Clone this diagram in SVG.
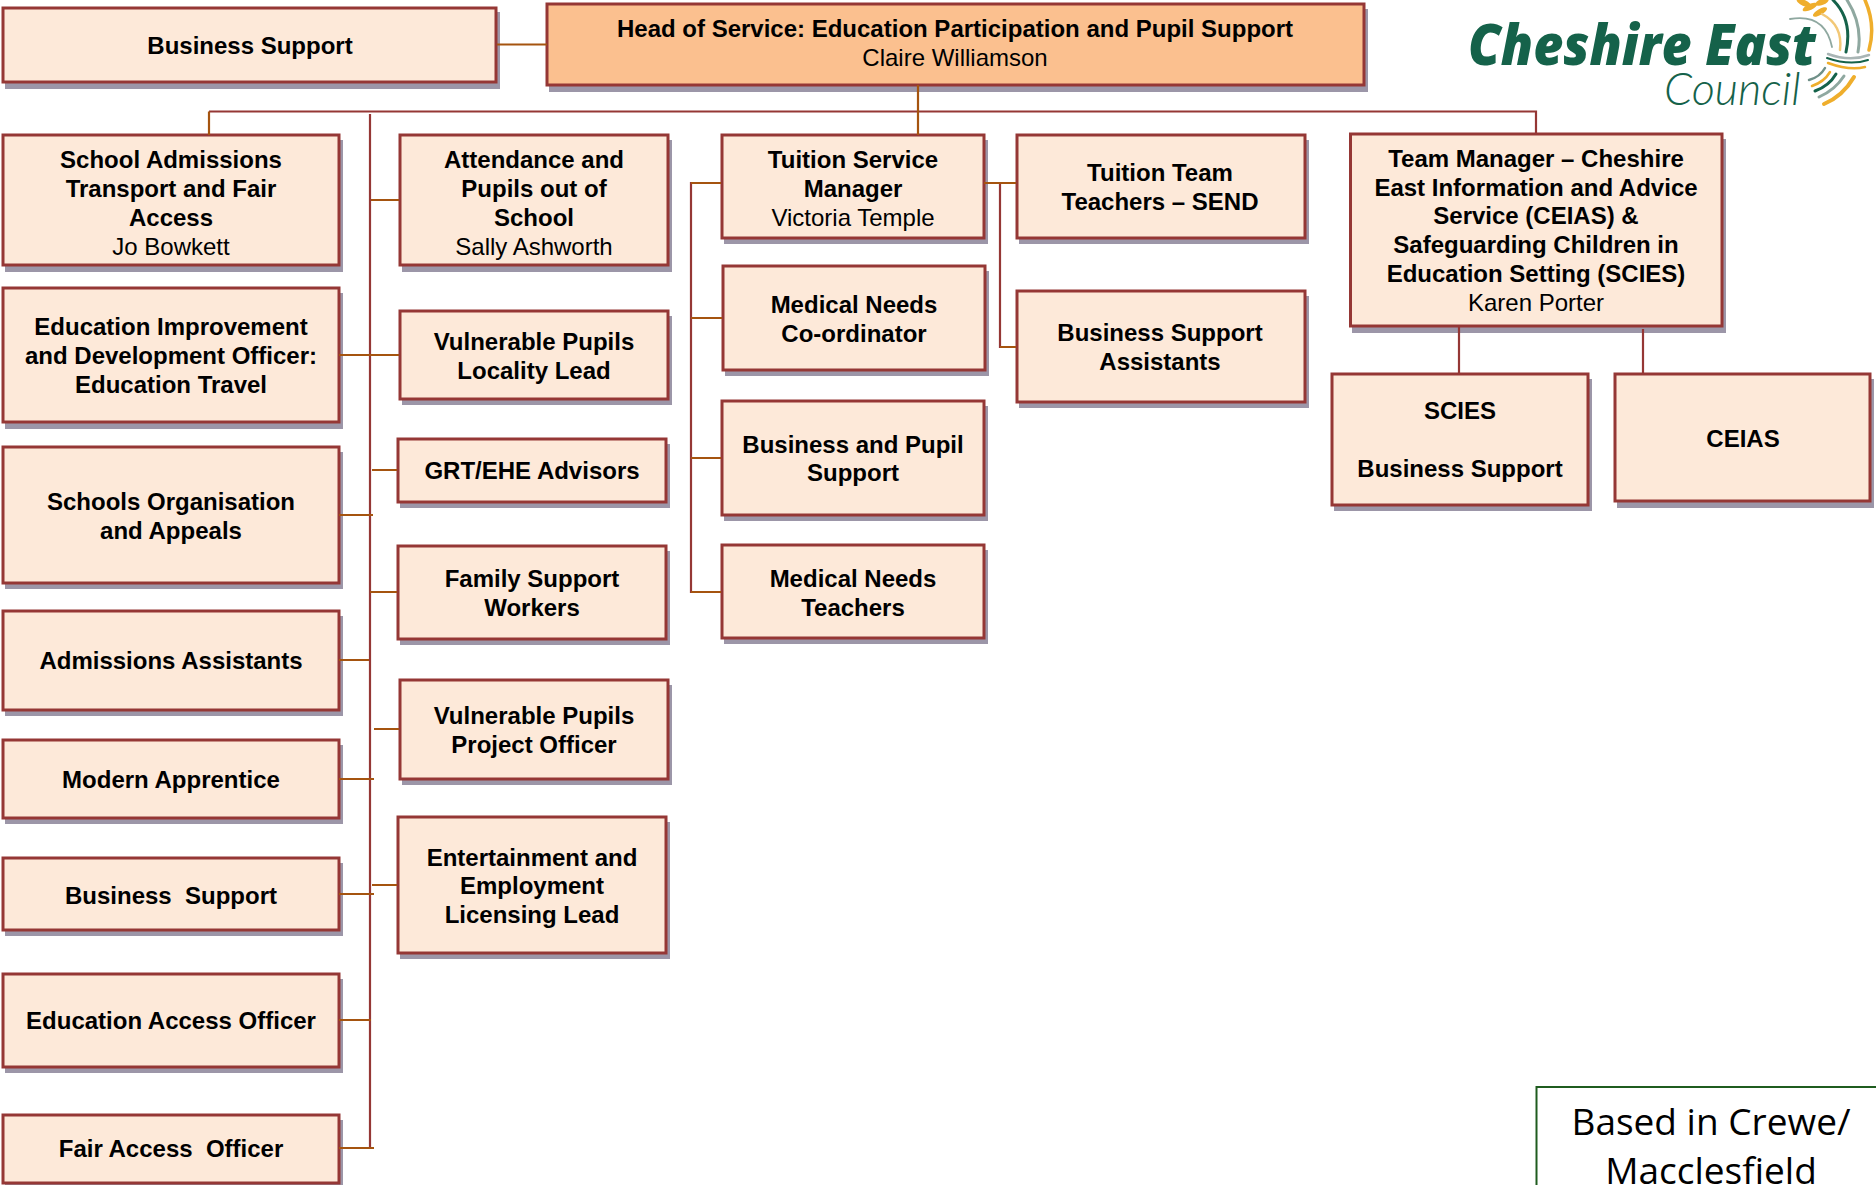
<svg xmlns="http://www.w3.org/2000/svg" width="1876" height="1185" viewBox="0 0 1876 1185">
<defs>
<style>
text{font-family:"Liberation Sans",Arial,sans-serif;font-size:24px;fill:#000;text-anchor:middle}
.b{font-weight:700}
.box{fill:#FDE9D9;stroke:#953735;stroke-width:3}
.head{fill:#FBC08F;stroke:#953735;stroke-width:3}
.sh{fill:#9C96A8;stroke:none}
.o{fill:none;stroke:#A5540F;stroke-width:2.2}
.r{fill:none;stroke:#953735;stroke-width:2.2}
.logo{fill:none;stroke-linecap:round}
</style>
</defs>
<rect width="1876" height="1185" fill="#fff"/>
<g id="n-business-support-top"><rect class="sh" x="5" y="12" width="495" height="77"/><rect class="box" x="3" y="8" width="493" height="74"/><text class="b" x="250" y="54">Business Support</text></g>
<g id="n-head"><rect class="sh" x="549" y="9" width="819" height="83"/><rect class="head" x="547" y="4" width="817" height="81"/><text class="b" x="955" y="37">Head of Service: Education Participation and Pupil Support</text><text x="955" y="66">Claire Williamson</text></g>
<g id="n-school-admissions"><rect class="sh" x="5" y="140" width="338" height="132"/><rect class="box" x="3" y="135" width="336" height="130"/><text class="b" x="171" y="168">School Admissions</text><text class="b" x="171" y="197">Transport and Fair</text><text class="b" x="171" y="226">Access</text><text x="171" y="255">Jo Bowkett</text></g>
<g id="n-education-improvement"><rect class="sh" x="5" y="293" width="338" height="136"/><rect class="box" x="3" y="288" width="336" height="134"/><text class="b" x="171" y="335">Education Improvement</text><text class="b" x="171" y="364">and Development Officer:</text><text class="b" x="171" y="393">Education Travel</text></g>
<g id="n-schools-organisation"><rect class="sh" x="5" y="452" width="338" height="137"/><rect class="box" x="3" y="447" width="336" height="136"/><text class="b" x="171" y="510">Schools Organisation</text><text class="b" x="171" y="539">and Appeals</text></g>
<g id="n-admissions-assistants"><rect class="sh" x="5" y="616" width="338" height="100"/><rect class="box" x="3" y="611" width="336" height="99"/><text class="b" x="171" y="669">Admissions Assistants</text></g>
<g id="n-modern-apprentice"><rect class="sh" x="5" y="745" width="338" height="79"/><rect class="box" x="3" y="740" width="336" height="78"/><text class="b" x="171" y="788">Modern Apprentice</text></g>
<g id="n-business-support-left"><rect class="sh" x="5" y="863" width="338" height="73"/><rect class="box" x="3" y="858" width="336" height="72"/><text class="b" x="171" y="904" xml:space="preserve">Business  Support</text></g>
<g id="n-education-access"><rect class="sh" x="5" y="979" width="338" height="94"/><rect class="box" x="3" y="974" width="336" height="93"/><text class="b" x="171" y="1029">Education Access Officer</text></g>
<g id="n-fair-access"><rect class="sh" x="5" y="1120" width="338" height="65"/><rect class="box" x="3" y="1115" width="336" height="68"/><text class="b" x="171" y="1157" xml:space="preserve">Fair Access  Officer</text></g>
<g id="n-attendance"><rect class="sh" x="402" y="140" width="270" height="132"/><rect class="box" x="400" y="135" width="268" height="130"/><text class="b" x="534" y="168">Attendance and</text><text class="b" x="534" y="197">Pupils out of</text><text class="b" x="534" y="226">School</text><text x="534" y="255">Sally Ashworth</text></g>
<g id="n-vp-locality"><rect class="sh" x="402" y="316" width="270" height="89"/><rect class="box" x="400" y="311" width="268" height="88"/><text class="b" x="534" y="350">Vulnerable Pupils</text><text class="b" x="534" y="379">Locality Lead</text></g>
<g id="n-grt"><rect class="sh" x="400" y="444" width="270" height="64"/><rect class="box" x="398" y="439" width="268" height="63"/><text class="b" x="532" y="479">GRT/EHE Advisors</text></g>
<g id="n-family-support"><rect class="sh" x="400" y="551" width="270" height="94"/><rect class="box" x="398" y="546" width="268" height="93"/><text class="b" x="532" y="587">Family Support</text><text class="b" x="532" y="616">Workers</text></g>
<g id="n-vp-project"><rect class="sh" x="402" y="685" width="270" height="100"/><rect class="box" x="400" y="680" width="268" height="99"/><text class="b" x="534" y="724">Vulnerable Pupils</text><text class="b" x="534" y="753">Project Officer</text></g>
<g id="n-entertainment"><rect class="sh" x="400" y="822" width="270" height="137"/><rect class="box" x="398" y="817" width="268" height="136"/><text class="b" x="532" y="866">Entertainment and</text><text class="b" x="532" y="894">Employment</text><text class="b" x="532" y="923">Licensing Lead</text></g>
<g id="n-tuition-manager"><rect class="sh" x="724" y="140" width="264" height="104"/><rect class="box" x="722" y="135" width="262" height="103"/><text class="b" x="853" y="168">Tuition Service</text><text class="b" x="853" y="197">Manager</text><text x="853" y="226">Victoria Temple</text></g>
<g id="n-medical-coordinator"><rect class="sh" x="725" y="271" width="264" height="105"/><rect class="box" x="723" y="266" width="262" height="104"/><text class="b" x="854" y="313">Medical Needs</text><text class="b" x="854" y="342">Co-ordinator</text></g>
<g id="n-business-pupil"><rect class="sh" x="724" y="406" width="264" height="115"/><rect class="box" x="722" y="401" width="262" height="114"/><text class="b" x="853" y="453">Business and Pupil</text><text class="b" x="853" y="481">Support</text></g>
<g id="n-medical-teachers"><rect class="sh" x="724" y="550" width="264" height="94"/><rect class="box" x="722" y="545" width="262" height="93"/><text class="b" x="853" y="587">Medical Needs</text><text class="b" x="853" y="616">Teachers</text></g>
<g id="n-tuition-team"><rect class="sh" x="1019" y="140" width="290" height="104"/><rect class="box" x="1017" y="135" width="288" height="103"/><text class="b" x="1160" y="181">Tuition Team</text><text class="b" x="1160" y="210">Teachers – SEND</text></g>
<g id="n-bsa"><rect class="sh" x="1019" y="296" width="290" height="112"/><rect class="box" x="1017" y="291" width="288" height="111"/><text class="b" x="1160" y="341">Business Support</text><text class="b" x="1160" y="370">Assistants</text></g>
<g id="n-team-manager"><rect class="sh" x="1352" y="139" width="374" height="194"/><rect class="box" x="1350.500" y="134" width="371.500" height="192"/><text class="b" x="1536" y="167">Team Manager – Cheshire</text><text class="b" x="1536" y="196">East Information and Advice</text><text class="b" x="1536" y="224">Service (CEIAS) &amp;</text><text class="b" x="1536" y="253">Safeguarding Children in</text><text class="b" x="1536" y="282">Education Setting (SCIES)</text><text x="1536" y="311">Karen Porter</text></g>
<g id="n-scies"><rect class="sh" x="1334" y="379" width="258" height="132"/><rect class="box" x="1332" y="374" width="256" height="131"/><text class="b" x="1460" y="419">SCIES</text><text class="b" x="1460" y="477">Business Support</text></g>
<g id="n-ceias"><rect class="sh" x="1617" y="379" width="257" height="129"/><rect class="box" x="1615" y="374" width="255" height="127"/><text class="b" x="1743" y="447">CEIAS</text></g>
<g id="n-note"><rect x="1536.500" y="1087" width="360" height="120" fill="#fff" stroke="#1F5C1F" stroke-width="2"/><text style="font-family:'Open Sans',sans-serif;font-size:37px" x="1711" y="1135">Based in Crewe/</text><text style="font-family:'Open Sans',sans-serif;font-size:37px" x="1711" y="1184">Macclesfield</text></g>
<g id="connectors">
<path class="r" d="M209 111.5H1536V134"/>
<path class="o" d="M209 111.5V135M497 44.5H547M918 85V135"/>
<path class="r" d="M370 114V1148"/>
<path class="o" d="M371 200H399M339 355H399M372 470H397M339 515H373M370 592H397M339 660H369M374 729H399M339 779H374M372 885H397M339 894H374M339 1020H371M339 1148H374"/>
<path class="r" d="M721 183H691V592H721"/>
<path class="o" d="M691 183H721M691 318H722M691 458H721M691 592H721"/>
<path class="r" d="M1000 183V347H1016"/>
<path class="o" d="M984 183H1016M1000 347H1016"/>
<path class="r" d="M1459 327V374M1643 329V374"/>
</g>
<g id="logo">
<text style="font-family:'Open Sans',sans-serif;font-size:56px;font-weight:800;font-style:italic;fill:#15624A;text-anchor:start" x="1468" y="65" textLength="348" lengthAdjust="spacingAndGlyphs">Cheshire East</text>
<text style="font-family:'Lato',sans-serif;font-size:45px;font-weight:300;font-style:italic;fill:#15624A;text-anchor:start" x="1664" y="105">Council</text>
<g fill="#EFAE2C"><ellipse cx="1804" cy="3" rx="8" ry="3" transform="rotate(25 1804 3)"/><ellipse cx="1810" cy="7" rx="8" ry="3" transform="rotate(-25 1810 7)"/><ellipse cx="1820" cy="12" rx="8" ry="3" transform="rotate(-30 1820 12)"/><ellipse cx="1822" cy="2" rx="7" ry="3" transform="rotate(-20 1822 2)"/></g>
<path class="logo" stroke="#8FA8A0" stroke-width="1.800" d="M1790 19Q1825 13 1832 47"/>
<path class="logo" stroke="#F2C877" stroke-width="2.500" d="M1822 14Q1843 25 1840 50"/>
<path class="logo" stroke="#15624A" stroke-width="3" d="M1833 0Q1853 20 1846 52"/>
<path class="logo" stroke="#8FA8A0" stroke-width="3" d="M1847 0Q1863 25 1858 52"/>
<path class="logo" stroke="#EFAE2C" stroke-width="3.500" d="M1865 0Q1876 25 1869 50"/>
<path class="logo" stroke="#A9B5B5" stroke-width="2.500" d="M1828 54Q1850 62 1869 55"/>
<path class="logo" stroke="#15624A" stroke-width="2" d="M1827 58Q1850 66 1868 60"/>
<path class="logo" stroke="#EFAE2C" stroke-width="2.500" d="M1828 63Q1850 71 1865 67"/>
<path class="logo" stroke="#6F9088" stroke-width="2.500" d="M1809 80Q1820 77 1825 68"/>
<path class="logo" stroke="#EFAE2C" stroke-width="2.500" d="M1812 86Q1824 82 1830 72"/>
<path class="logo" stroke="#15624A" stroke-width="3" d="M1815 91Q1829 86 1836 74"/>
<path class="logo" stroke="#8FA8A0" stroke-width="3" d="M1819 97Q1835 90 1844 76"/>
<path class="logo" stroke="#EFAE2C" stroke-width="4" d="M1824 104Q1843 96 1854 77"/>
</g>
</svg>
